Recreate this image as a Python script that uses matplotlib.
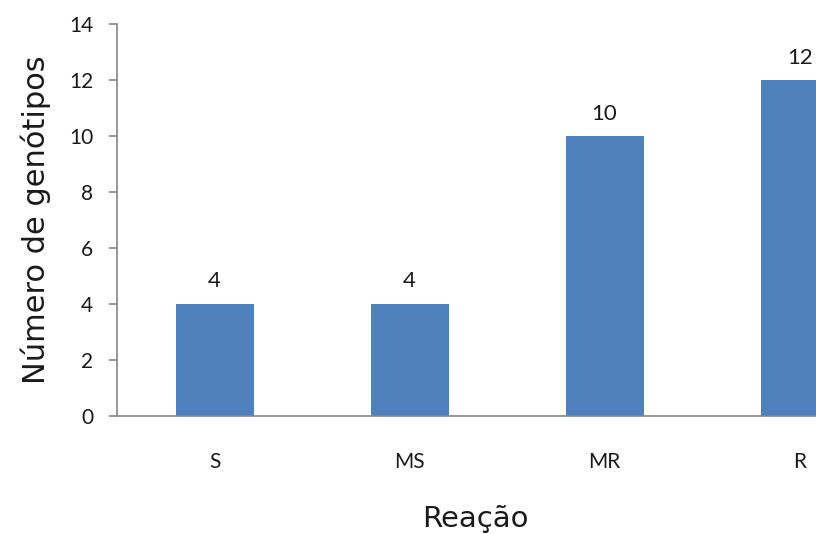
import matplotlib
matplotlib.use("Agg")
import matplotlib.pyplot as plt

# reaction classes and number of genotypes in each
reacoes = ["S", "MS", "MR", "R"]
genotipos = [4, 4, 10, 12]
y_ticks = [0, 2, 4, 6, 8, 10, 12, 14]

bar_color = "#4F81BD"
axis_color = "#868686"
text_color = "#1a1a1a"

fig = plt.figure(figsize=(8.16, 5.34), dpi=100)
# axes run past the right edge of the figure on purpose
ax = fig.add_axes([0.1434, 0.221, 0.956, 0.734])

x = list(range(len(reacoes)))
bars = ax.bar(x, genotipos, width=0.4, color=bar_color, zorder=2)
ax.bar_label(bars, labels=[str(v) for v in genotipos], padding=9,
             fontsize=16, family="Lato", color=text_color)

ax.set_xlim(-0.5, 3.5)
ax.set_ylim(0, 14)
ax.set_yticks(y_ticks)
ax.set_xticks(x)
ax.set_xticklabels(reacoes)

for side in ["top", "right"]:
    ax.spines[side].set_visible(False)
for side in ["left", "bottom"]:
    ax.spines[side].set_color(axis_color)
    ax.spines[side].set_linewidth(1.2)

ax.tick_params(axis="y", direction="out", length=6, width=1.2, color=axis_color,
               labelsize=15, pad=11, labelcolor=text_color)
ax.tick_params(axis="x", length=0, labelsize=15, pad=26, labelcolor=text_color)
for lab in ax.get_xticklabels() + ax.get_yticklabels():
    lab.set_family("Lato")

ax.set_ylabel("Número de genótipos", fontsize=22, color=text_color)
ax.yaxis.set_label_coords(-0.085, 0.5)
ax.set_xlabel("Reação", fontsize=21, color=text_color)
ax.xaxis.set_label_coords(0.46, -0.228)

fig.savefig("out.png", dpi=100)
